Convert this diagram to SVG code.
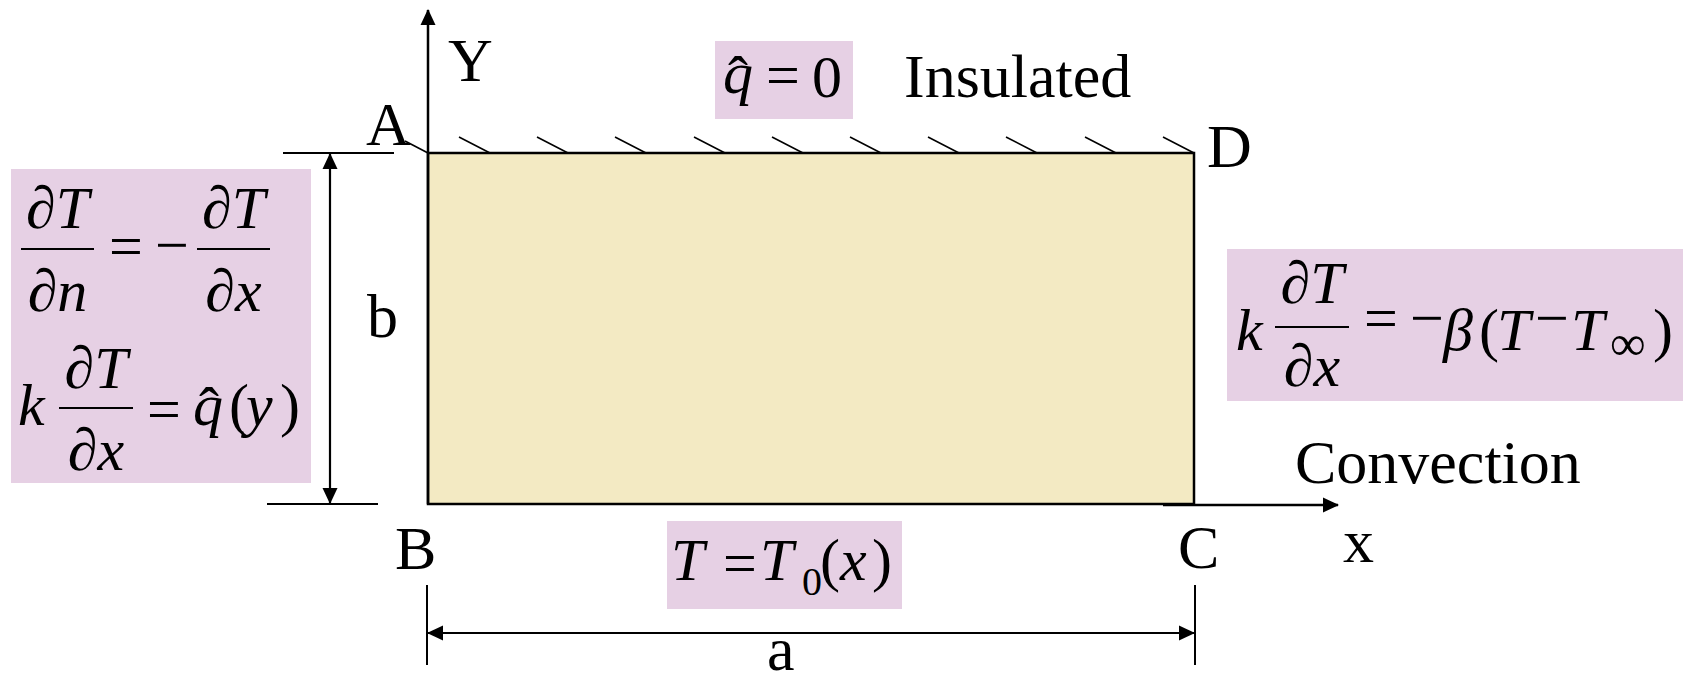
<svg xmlns="http://www.w3.org/2000/svg" width="1691" height="673" viewBox="0 0 1691 673">
<defs>
<marker id="ah" markerUnits="userSpaceOnUse" markerWidth="16" markerHeight="16" viewBox="0 0 16 16" refX="15" refY="8" orient="auto-start-reverse">
<path d="M0,0.5 L16,8 L0,15.5 Z" fill="#000"/>
</marker>
</defs>
<style>
.lbl{font-family:"Liberation Serif","Times New Roman",serif;font-size:62px;fill:#000}
.m{font-family:"Liberation Serif","Times New Roman",serif;font-size:60px;fill:#000}
.i{font-style:italic}
.n{font-style:normal}
.sub{font-size:40px}
.box{fill:#E6D0E4}
.ln{stroke:#000;fill:none}
</style>
<rect width="1691" height="673" fill="#fff"/>

<g id="plate">
<rect x="428" y="153" width="766" height="351" fill="#F3EAC3" stroke="#000" stroke-width="2.5"/>
</g>

<g id="connectors">
<line class="ln" x1="428" y1="504" x2="428" y2="10" stroke-width="2.5" marker-end="url(#ah)"/>
<line class="ln" x1="1163" y1="505" x2="1338" y2="505" stroke-width="2.5" marker-end="url(#ah)"/>
<line class="ln" x1="330" y1="154" x2="330" y2="503" stroke-width="2.2" marker-start="url(#ah)" marker-end="url(#ah)"/>
<line class="ln" x1="283" y1="153" x2="394" y2="153" stroke-width="2"/>
<line class="ln" x1="267" y1="504" x2="378" y2="504" stroke-width="2"/>
<line class="ln" x1="428" y1="633" x2="1194" y2="633" stroke-width="2.2" marker-start="url(#ah)" marker-end="url(#ah)"/>
<line class="ln" x1="427" y1="585" x2="427" y2="665" stroke-width="2"/>
<line class="ln" x1="1195" y1="585" x2="1195" y2="665" stroke-width="2"/>
<g stroke="#000" stroke-width="1.6">
<line x1="405" y1="141" x2="428" y2="153"/>
<line x1="459" y1="137" x2="490" y2="153"/>
<line x1="537" y1="137" x2="568" y2="153"/>
<line x1="615" y1="137" x2="646" y2="153"/>
<line x1="694" y1="137" x2="725" y2="153"/>
<line x1="772" y1="137" x2="803" y2="153"/>
<line x1="850" y1="137" x2="881" y2="153"/>
<line x1="928" y1="137" x2="959" y2="153"/>
<line x1="1006" y1="137" x2="1037" y2="153"/>
<line x1="1085" y1="137" x2="1116" y2="153"/>
<line x1="1163" y1="137" x2="1194" y2="153"/>
</g>
</g>

<g id="labels">
<text class="lbl" x="448" y="81">Y</text>
<text class="lbl" x="366" y="145">A</text>
<text class="lbl" x="1207" y="167">D</text>
<text class="lbl" x="367" y="337">b</text>
<text class="lbl" x="395" y="569">B</text>
<text class="lbl" x="1178" y="568">C</text>
<text class="lbl" x="1343" y="562">x</text>
<text class="lbl" x="767" y="670">a</text>
<text class="lbl" x="904" y="97">Insulated</text>
<text class="lbl" x="1295" y="483">Convection</text>
</g>

<g id="bc-top">
<rect class="box" x="715" y="41" width="138" height="78"/>
<text class="m i" x="723" y="93">q<tspan class="n" x="728" y="97">ˆ</tspan></text>
<text class="m" x="783" y="95" text-anchor="middle">=</text>
<text class="m" x="812" y="97">0</text>
</g>

<g id="bc-left">
<rect class="box" x="11" y="169" width="300" height="314"/>
<text class="m i" x="57.5" y="228" text-anchor="middle">∂T</text>
<line class="ln" x1="21" y1="249" x2="94" y2="249" stroke-width="2"/>
<text class="m i" x="57.5" y="311" text-anchor="middle">∂n</text>
<text class="m" x="126" y="266" text-anchor="middle">=</text>
<text class="m" x="172" y="265" text-anchor="middle">−</text>
<text class="m i" x="233.5" y="228" text-anchor="middle">∂T</text>
<line class="ln" x1="197" y1="249" x2="270" y2="249" stroke-width="2"/>
<text class="m i" x="233.5" y="311" text-anchor="middle">∂x</text>
<text class="m i" x="18" y="425">k</text>
<text class="m i" x="96" y="388" text-anchor="middle">∂T</text>
<line class="ln" x1="59" y1="408" x2="133" y2="408" stroke-width="2"/>
<text class="m i" x="96" y="470" text-anchor="middle">∂x</text>
<text class="m" x="164" y="429" text-anchor="middle">=</text>
<text class="m i" x="193" y="425">q<tspan class="n" x="199" y="428">ˆ</tspan></text>
<text class="m" x="229" y="425">(</text>
<text class="m i" x="246" y="425">y</text>
<text class="m" x="280" y="425">)</text>
</g>

<g id="bc-right">
<rect class="box" x="1227" y="249" width="456" height="152"/>
<text class="m i" x="1236" y="350">k</text>
<text class="m i" x="1312" y="303" text-anchor="middle">∂T</text>
<line class="ln" x1="1275" y1="327" x2="1349" y2="327" stroke-width="2"/>
<text class="m i" x="1312" y="386" text-anchor="middle">∂x</text>
<text class="m" x="1381" y="338" text-anchor="middle">=</text>
<text class="m" x="1427" y="338" text-anchor="middle">−</text>
<text class="m i" x="1443" y="350">β</text>
<text class="m" x="1479" y="350">(</text>
<text class="m i" x="1497" y="350">T</text>
<text class="m" x="1552" y="338" text-anchor="middle">−</text>
<text class="m i" x="1571" y="350">T</text>
<text class="m" x="1610" y="360" style="font-size:50px">∞</text>
<text class="m" x="1653" y="350">)</text>
</g>

<g id="bc-bottom">
<rect class="box" x="667" y="521" width="235" height="88"/>
<text class="m i" x="671" y="580">T</text>
<text class="m" x="740" y="583" text-anchor="middle">=</text>
<text class="m i" x="760" y="580">T</text>
<text class="m sub" x="802" y="595">0</text>
<text class="m" x="820" y="580">(</text>
<text class="m i" x="840" y="580">x</text>
<text class="m" x="872" y="580">)</text>
</g>
</svg>
